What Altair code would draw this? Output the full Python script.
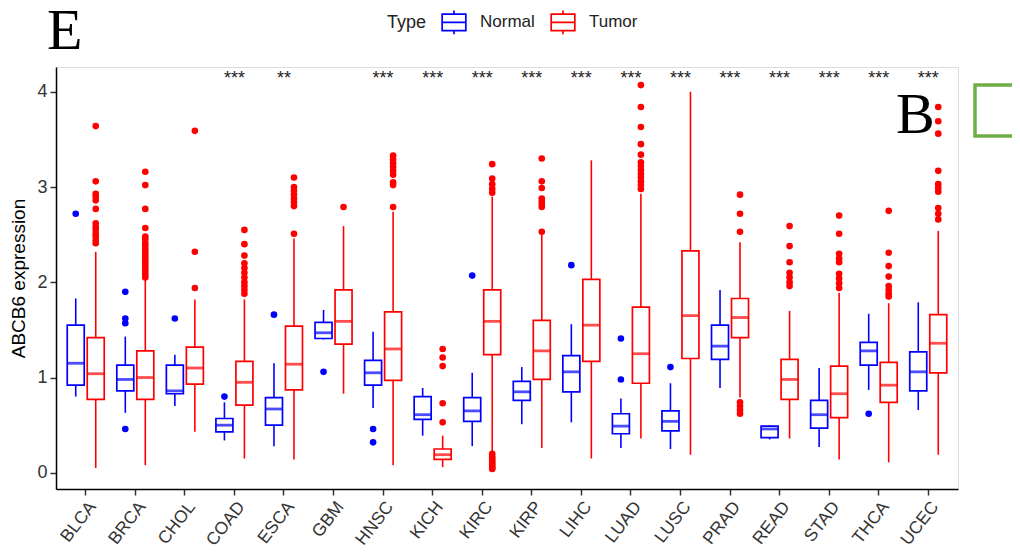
import altair as alt
import pandas as pd

cancers = ["BLCA", "BRCA", "CHOL", "COAD", "ESCA", "GBM", "HNSC", "KICH", "KIRC",
           "KIRP", "LIHC", "LUAD", "LUSC", "PRAD", "READ", "STAD", "THCA", "UCEC"]

# Normal: lower whisker, Q1, median, Q3, upper whisker
normal_low = [0.80, 0.63, 0.70, 0.34, 0.28, 1.40, 0.68, 0.39, 0.28, 0.51, 0.53, 0.26, 0.25, 0.89, 0.35, 0.27, 0.87, 0.66]
normal_q1 = [0.92, 0.86, 0.83, 0.43, 0.50, 1.41, 0.92, 0.56, 0.54, 0.76, 0.85, 0.41, 0.44, 1.19, 0.37, 0.47, 1.13, 0.86]
normal_med = [1.15, 0.98, 0.86, 0.50, 0.67, 1.47, 1.05, 0.61, 0.65, 0.85, 1.06, 0.49, 0.54, 1.33, 0.46, 0.61, 1.28, 1.06]
normal_q3 = [1.55, 1.13, 1.13, 0.57, 0.79, 1.58, 1.18, 0.80, 0.79, 0.96, 1.23, 0.62, 0.65, 1.55, 0.49, 0.76, 1.37, 1.27]
normal_high = [1.83, 1.43, 1.24, 0.74, 1.15, 1.71, 1.48, 0.89, 1.05, 1.11, 1.56, 0.78, 0.94, 1.92, 0.50, 1.10, 1.67, 1.79]

tumor_low = [0.05, 0.08, 0.43, 0.15, 0.14, 0.83, 0.08, 0.06, 0.22, 0.26, 0.15, 0.36, 0.19, 0.79, 0.36, 0.14, 0.11, 0.19]
tumor_q1 = [0.77, 0.77, 0.93, 0.71, 0.87, 1.35, 0.97, 0.14, 1.24, 0.98, 1.17, 0.94, 1.20, 1.42, 0.77, 0.58, 0.74, 1.05]
tumor_med = [1.04, 1.00, 1.10, 0.95, 1.14, 1.59, 1.30, 0.19, 1.59, 1.28, 1.55, 1.25, 1.65, 1.63, 0.98, 0.83, 0.92, 1.36]
tumor_q3 = [1.42, 1.28, 1.32, 1.17, 1.54, 1.92, 1.69, 0.25, 1.92, 1.60, 2.03, 1.74, 2.33, 1.83, 1.19, 1.12, 1.16, 1.66]
tumor_high = [2.32, 2.03, 1.82, 1.82, 2.46, 2.59, 2.74, 0.39, 2.90, 2.50, 3.28, 2.93, 4.00, 2.42, 1.70, 1.89, 1.78, 2.54]

normal_outliers = {
    "BLCA": [2.72],
    "BRCA": [1.90, 1.62, 1.57, 0.46],
    "CHOL": [1.62],
    "COAD": [0.80],
    "ESCA": [1.66],
    "GBM": [1.06],
    "HNSC": [0.46, 0.32],
    "KIRC": [2.07],
    "LIHC": [2.18],
    "LUAD": [1.41, 0.98],
    "LUSC": [1.11],
    "THCA": [0.62],
}

tumor_outliers = {
    "BLCA": [3.64, 3.06, 2.93, 2.90, 2.86, 2.77, 2.62, 2.58, 2.55, 2.51, 2.48, 2.44, 2.41],
    "BRCA": [3.16, 3.02, 2.77, 2.57, 2.48, 2.45, 2.41, 2.38, 2.35, 2.32, 2.29, 2.26, 2.23,
             2.20, 2.17, 2.14, 2.11, 2.08, 2.05],
    "CHOL": [3.59, 2.32, 1.94],
    "COAD": [2.55, 2.40, 2.28, 2.20, 2.15, 2.10, 2.05, 2.00, 1.96, 1.92, 1.88],
    "ESCA": [3.10, 3.00, 2.96, 2.92, 2.88, 2.84, 2.80, 2.51],
    "GBM": [2.79],
    "HNSC": [3.33, 3.29, 3.25, 3.21, 3.17, 3.13, 3.05, 3.02, 2.79],
    "KICH": [1.30, 1.21, 1.12, 0.73, 0.53],
    "KIRC": [3.24, 3.09, 3.03, 2.98, 2.94, 0.20, 0.17, 0.15, 0.13, 0.11, 0.09, 0.07, 0.05, 0.04],
    "KIRP": [3.30, 3.06, 2.99, 2.88, 2.85, 2.82, 2.79, 2.53],
    "LUAD": [4.07, 3.84, 3.63, 3.45, 3.34, 3.26, 3.22, 3.18, 3.14, 3.10, 3.06, 3.02, 2.98],
    "PRAD": [2.92, 2.72, 2.53, 0.74, 0.70, 0.66, 0.62],
    "READ": [2.59, 2.38, 2.21, 2.10, 2.05, 2.00, 1.96],
    "STAD": [2.70, 2.51, 2.30, 2.25, 2.21, 2.09, 2.04, 1.99, 1.94],
    "THCA": [2.75, 2.31, 2.17, 2.06, 1.96, 1.92, 1.88, 1.85],
    "UCEC": [3.84, 3.69, 3.56, 3.17, 3.03, 2.99, 2.95, 2.78, 2.72, 2.66],
}

sig_cancers = ["COAD", "ESCA", "HNSC", "KICH", "KIRC", "KIRP", "LIHC", "LUAD", "LUSC",
               "PRAD", "READ", "STAD", "THCA", "UCEC"]
sig_labels = ["***", "**", "***", "***", "***", "***", "***", "***", "***",
              "***", "***", "***", "***", "***"]

types = ["Normal", "Tumor"]
colors = ["#0000FF", "#FF0000"]

rows = []
for i, c in enumerate(cancers):
    rows.append(dict(cancer=c, Type="Normal", low=normal_low[i], q1=normal_q1[i],
                     med=normal_med[i], q3=normal_q3[i], high=normal_high[i]))
    rows.append(dict(cancer=c, Type="Tumor", low=tumor_low[i], q1=tumor_q1[i],
                     med=tumor_med[i], q3=tumor_q3[i], high=tumor_high[i]))
box_df = pd.DataFrame(rows)

orows = []
for c, vals in normal_outliers.items():
    for v in vals:
        orows.append(dict(cancer=c, Type="Normal", value=v))
for c, vals in tumor_outliers.items():
    for v in vals:
        orows.append(dict(cancer=c, Type="Tumor", value=v))
out_df = pd.DataFrame(orows)

sig_df = pd.DataFrame({"cancer": sig_cancers, "label": sig_labels, "y": [4.08] * len(sig_cancers)})

FONT = "Liberation Sans, Arial, sans-serif"
SERIF = "Liberation Serif, Times New Roman, serif"

xenc = alt.X("cancer:N", sort=cancers, title=None,
             scale=alt.Scale(domain=cancers, paddingInner=0, paddingOuter=0.1),
             axis=alt.Axis(labelAngle=-52, labelAlign="right", labelBaseline="top",
                           labelFontSize=17.5, labelColor="#333333", labelFont=FONT,
                           tickSize=6, tickColor="#333333", tickWidth=1.5,
                           domainColor="black", domainWidth=1.5, labelPadding=3))
xoff = alt.XOffset("Type:N", scale=alt.Scale(domain=types, paddingInner=0, paddingOuter=0.239))
yscale = alt.Scale(domain=[-0.17, 4.26], nice=False, zero=False)
yaxis = alt.Axis(values=[0, 1, 2, 3, 4], format="d", grid=False, labelFontSize=18,
                 labelColor="#333333", labelFont=FONT, tickSize=6, tickColor="#333333",
                 tickWidth=1.5, domainColor="black", domainWidth=1.5, labelPadding=3,
                 title="ABCB6 expression", titleFontSize=19, titleFont=FONT,
                 titleFontWeight="normal", titleColor="black", titlePadding=8)
cscale = alt.Scale(domain=types, range=colors)
col = alt.Color("Type:N", scale=cscale, legend=None)

base = alt.Chart(box_df)

whisk_hi = base.mark_rule(strokeWidth=1.6).encode(
    x=xenc, xOffset=xoff, y=alt.Y("q3:Q", scale=yscale, axis=yaxis), y2="high:Q", color=col)
whisk_lo = base.mark_rule(strokeWidth=1.6).encode(
    x=xenc, xOffset=xoff, y=alt.Y("low:Q", scale=yscale), y2="q1:Q", color=col)

box_symbol = "M-1,-0.7H1V0.7H-1Z M-1,0H1 M0,-0.7V-1 M0,0.7V1"
legend = alt.Legend(orient="none", legendX=331, legendY=-58,
                    direction="horizontal", title="Type",
                    titleOrient="left", titleFontSize=18,
                    titleFontWeight="normal", titleFont=FONT,
                    titleColor="#222222", labelFontSize=17,
                    labelFont=FONT, labelColor="#222222",
                    symbolType=box_symbol, symbolSize=560,
                    symbolStrokeWidth=1.7, symbolFillColor="white",
                    columnPadding=12, labelOffset=13, titlePadding=14)
boxes = base.mark_bar(width=17, filled=False, fill="white", strokeWidth=1.7).encode(
    x=xenc, xOffset=xoff, y=alt.Y("q1:Q", scale=yscale), y2="q3:Q",
    color=alt.Color("Type:N", scale=cscale, legend=legend))
medians = base.mark_tick(size=17, thickness=2.8).encode(
    x=xenc, xOffset=xoff, y=alt.Y("med:Q", scale=yscale), color=col)

outliers = alt.Chart(out_df).mark_circle(size=44, opacity=1).encode(
    x=xenc, xOffset=xoff, y=alt.Y("value:Q", scale=yscale), color=col)

sig = alt.Chart(sig_df).mark_text(fontSize=18, font=FONT, color="#222222", baseline="alphabetic").encode(
    x=xenc, y=alt.Y("y:Q", scale=yscale), text="label:N")

one = pd.DataFrame({"k": [0]})
letter_e = alt.Chart(one).mark_text(text="E", font=SERIF, fontSize=58, color="black",
                                    align="left", baseline="alphabetic").encode(
    x=alt.value(-9), y=alt.value(-18))
letter_b = alt.Chart(one).mark_text(text="B", font=SERIF, fontSize=58, color="black",
                                    align="left", baseline="alphabetic").encode(
    x=alt.value(840), y=alt.value(66))
green = alt.Chart(one).mark_rect(fill="transparent", stroke="#70AD47", strokeWidth=3.5).encode(
    x=alt.value(919), x2=alt.value(1200), y=alt.value(18), y2=alt.value(69))

chart = alt.layer(whisk_hi, whisk_lo, boxes, medians, outliers, sig, letter_e, letter_b, green).properties(
    width=902, height=422,
    autosize=alt.AutoSizeParams(type="none"),
    padding={"left": 48, "top": 59, "right": 54, "bottom": 60},
).resolve_legend(color="independent").configure_view(stroke=None).configure(background="white")

chart.save("out.html", embed_options={"renderer": "svg", "actions": False})
